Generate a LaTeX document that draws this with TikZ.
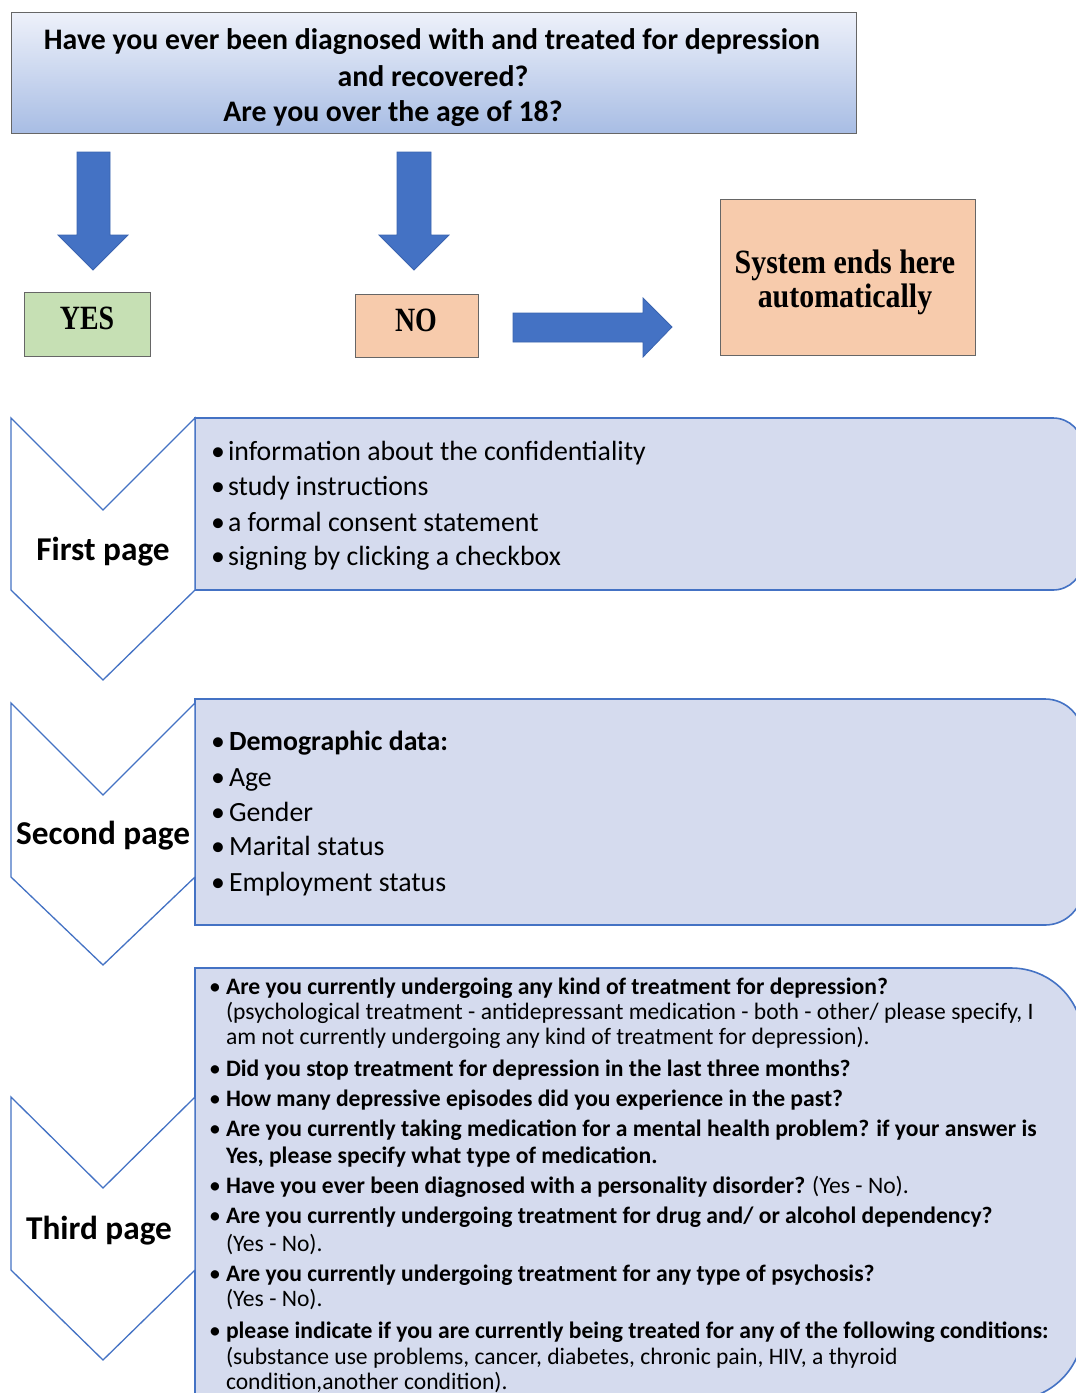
\documentclass[tikz,border=0pt]{standalone}
\usepackage{fontspec}
\setmainfont{Carlito}
\newfontfamily\tnr[FakeStretch=0.82]{Liberation Serif}
\newfontfamily\tnrw[FakeStretch=0.88]{Liberation Serif}
\definecolor{blu}{HTML}{4472C4}
\definecolor{bluedge}{HTML}{3A64B0}
\definecolor{boxfill}{HTML}{D5DBEE}
\definecolor{peach}{HTML}{F7CBAC}
\definecolor{grn}{HTML}{C6E0B4}
\definecolor{gtop}{HTML}{EEF1FA}
\definecolor{gbot}{HTML}{A8BDE4}
\tikzset{
  txt/.style={inner sep=0pt,outer sep=0pt,anchor=base west},
  toptxt/.style={inner sep=0pt,anchor=base,font=\bfseries\fontsize{29.8}{34}\selectfont},
  one/.style={txt,font=\fontsize{27.8}{34}\selectfont},
  thr/.style={txt,font=\fontsize{23.6}{26}\selectfont},
  lbl/.style={inner sep=0pt,anchor=base,font=\bfseries\fontsize{33.3}{40}\selectfont},
  serif/.style={inner sep=0pt,anchor=base,font=\tnr\bfseries\fontsize{34}{40}\selectfont},
  serifw/.style={inner sep=0pt,anchor=base,font=\tnrw\bfseries\fontsize{34}{40}\selectfont},
  blockarrow/.style={fill=blu,draw=bluedge,line width=0.8pt},
  chev/.style={draw=blu,line width=1.3pt,fill=white,line join=miter},
  cbox/.style={draw=blu,line width=1.6pt,fill=boxfill},
  plain/.style={draw=black!60,line width=1pt}
}
\begin{document}
\begin{tikzpicture}[x=1pt,y=-1pt]
\useasboundingbox (0,0) rectangle (1076,1393);
\clip (0,0) rectangle (1076,1393);
\fill[white] (0,0) rectangle (1076,1393);

% top question box
\shade[top color=gtop,bottom color=gbot] (11,12) rectangle (856,133);
\draw[plain] (11,12) rectangle (856,133);
\node[toptxt] (q1) at (432,49) {Have you ever been diagnosed with and treated for depression};
\node[toptxt] (q2) at (433,86) {and recovered?};
\node[toptxt] (q3) at (393,121) {Are you over the age of 18?};

% down arrows
\draw[blockarrow] (77,152) -- (110,152) -- (110,235) -- (128,235) -- (93,270) -- (58,235) -- (77,235) -- cycle;
\draw[blockarrow] (397,152) -- (431,152) -- (431,235) -- (449,235) -- (414,270) -- (379,235) -- (397,235) -- cycle;

% YES / NO / end
\draw[plain,fill=grn] (24,292) rectangle (150,356);
\node[serif] (yes) at (87,329) {YES};
\draw[plain,fill=peach] (355,294) rectangle (478,357);
\node[serif] (no) at (416,331) {NO};
\draw[blockarrow] (513,313) -- (643,313) -- (643,298) -- (672,327) -- (643,357) -- (643,342) -- (513,342) -- cycle;
\draw[plain,fill=peach] (720,199) rectangle (975,355);
\node[serifw] (end1) at (845,273) {System ends here};
\node[serifw] (end2) at (845,307) {automatically};

% content boxes
\draw[cbox] (195,418) [rounded corners=30] -- (1083,418) -- (1083,590) [sharp corners] -- (195,590) -- cycle;
\draw[cbox] (195,699) [rounded corners=38] -- (1083,699) -- (1083,925) [sharp corners] -- (195,925) -- cycle;
\draw[cbox] (195,968) [rounded corners=72] -- (1083,968) -- (1083,1400) [sharp corners] -- (195,1400) -- cycle;

% chevrons
\draw[chev] (11,418) -- (103,510) -- (195,418) -- (195,590) -- (103,680) -- (11,590) -- cycle;
\draw[chev] (11,703) -- (103,795) -- (195,703) -- (195,877) -- (103,965) -- (11,877) -- cycle;
\draw[chev] (11,1097) -- (103,1188) -- (195,1097) -- (195,1270) -- (103,1360) -- (11,1270) -- cycle;
\node[lbl] (p1) at (103,560) {First page};
\node[lbl] (p2) at (103,844) {Second page};
\node[lbl] (p3) at (99,1239) {Third page};

% box 1 text
\foreach \yy/\tt [count=\i] in {460/{information about the confidentiality},495/{study instructions},531/{a formal consent statement},565/{signing by clicking a checkbox}}{
  \node[one] (b1\i) at (211,\yy) {•};
  \node[one] (a1\i) at (228,\yy) {\tt};
}

% box 2 text
\node[one] (b21) at (211,750) {•};
\node[one,font=\bfseries\fontsize{27.8}{34}\selectfont] (a21) at (229,750) {Demographic data:};
\foreach \yy/\tt [count=\i from 2] in {786/{Age},821/{Gender},855/{Marital status},891/{Employment status}}{
  \node[one] (b2\i) at (211,\yy) {•};
  \node[one] (a2\i) at (229,\yy) {\tt};
}

% box 3 text
\foreach \yy [count=\i] in {994,1076,1106,1136,1193,1223,1281,1338}{
  \node[thr] (b3\i) at (209,\yy) {•};
}
\node[thr] (c1) at (226,994) {\bfseries Are you currently undergoing any kind of treatment for depression?};
\node[thr] (c2) at (226,1019) {(psychological treatment - antidepressant medication - both - other/ please specify, I};
\node[thr] (c3) at (226,1044) {am not currently undergoing any kind of treatment for depression).};
\node[thr] (c4) at (226,1076) {\bfseries Did you stop treatment for depression in the last three months?};
\node[thr] (c5) at (226,1106) {\bfseries How many depressive episodes did you experience in the past?};
\node[thr] (c6) at (226,1136) {\bfseries Are you currently taking medication for a mental health problem? if your answer is};
\node[thr] (c7) at (226,1163) {\bfseries Yes, please specify what type of medication.};
\node[thr] (c8) at (226,1193) {\textbf{Have you ever been diagnosed with a personality disorder?} (Yes - No).};
\node[thr] (c9) at (226,1223) {\bfseries Are you currently undergoing treatment for drug and/ or alcohol dependency?};
\node[thr] (c10) at (226,1251) {(Yes - No).};
\node[thr] (c11) at (226,1281) {\bfseries Are you currently undergoing treatment for any type of psychosis?};
\node[thr] (c12) at (226,1306) {(Yes - No).};
\node[thr] (c13) at (226,1338) {\bfseries please indicate if you are currently being treated for any of the following conditions:};
\node[thr] (c14) at (226,1364) {(substance use problems, cancer, diabetes, chronic pain, HIV, a thyroid};
\node[thr] (c15) at (226,1389) {condition,another condition).};
\end{tikzpicture}
\end{document}
